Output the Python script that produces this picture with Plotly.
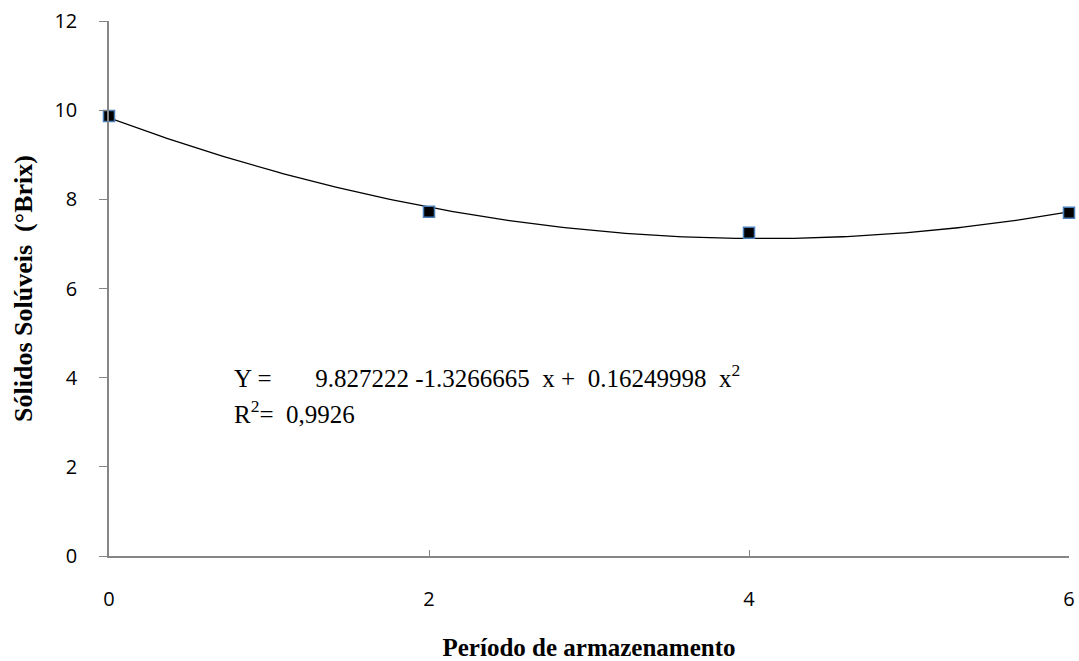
import numpy as np
import plotly.graph_objects as go

periodo = [0, 2, 4, 6]
solidos = [9.87, 7.72, 7.25, 7.70]
# trendline coefficients as printed in the chart
b0, b1, b2 = 9.827222, -1.3266665, 0.16249998
r2_text = "0,9926"
x_ticks = [0, 2, 4, 6]
y_ticks = [0, 2, 4, 6, 8, 10, 12]

xs = np.linspace(0, 6, 200)
ys = b0 + b1 * xs + b2 * xs ** 2

fig = go.Figure()
fig.add_trace(go.Scatter(x=xs, y=ys, mode="lines",
                         line=dict(color="black", width=1.3),
                         hoverinfo="skip", showlegend=False, cliponaxis=False))
fig.add_trace(go.Scatter(x=periodo, y=solidos, mode="markers",
                         marker=dict(symbol="square", size=11, color="black",
                                     line=dict(color="#4a7ebb", width=1.5)),
                         showlegend=False, cliponaxis=False))

axis_font = dict(family="Open Sans, sans-serif", size=20, color="black")
xtitle_font = dict(family="Liberation Serif, Times New Roman, serif", size=25, color="black")
ytitle_font = dict(family="Liberation Serif, Times New Roman, serif", size=26, color="black")

W, H = 1079, 661
L, R, T, B = 109, 10, 21, 105

fig.update_layout(
    width=W, height=H,
    margin=dict(l=L, r=R, t=T, b=B),
    paper_bgcolor="white", plot_bgcolor="white",
    xaxis=dict(range=[0, 6], tickvals=x_ticks, showgrid=False, zeroline=False,
               showline=True, linecolor="#868686", linewidth=1.5,
               ticks="inside", ticklen=6, tickcolor="#868686",
               tickfont=axis_font, ticklabelstandoff=24, automargin=False,
               ticklabeloverflow="allow",
               title=dict(text="<b>Período de armazenamento</b>", font=xtitle_font, standoff=32)),
    yaxis=dict(range=[0, 12], tickvals=y_ticks, showgrid=False, zeroline=False,
               showline=True, linecolor="#868686", linewidth=1.5,
               ticks="outside", ticklen=8, tickcolor="#868686",
               tickfont=axis_font, ticklabelstandoff=18, automargin=False,
               ticklabeloverflow="allow",
               title=dict(text="<b>Sólidos Solúveis  (°Brix)</b>", font=ytitle_font, standoff=14)),
)

plot_w = W - L - R
plot_h = H - T - B
eq_font = dict(family="Liberation Serif, Times New Roman, serif", size=25, color="black")
nb = "&nbsp;"
fig.add_annotation(xref="paper", yref="paper", x=(232 - L) / plot_w, y=(556 - 376) / plot_h,
                   xanchor="left", yanchor="middle", showarrow=False, font=eq_font,
                   text=f"Y ={nb * 7}{b0:.6f} {b1:.7f}{nb * 2}x +{nb * 2}{b2:.8f}{nb * 2}x<sup>2</sup>")
fig.add_annotation(xref="paper", yref="paper", x=(232 - L) / plot_w, y=(556 - 412) / plot_h,
                   xanchor="left", yanchor="middle", showarrow=False, font=eq_font,
                   text=f"R<sup>2</sup>={nb * 2}{r2_text}")

fig.write_html("out.html", config={"displayModeBar": False},
               post_script="document.body.style.margin='0';document.body.style.overflow='hidden';")
